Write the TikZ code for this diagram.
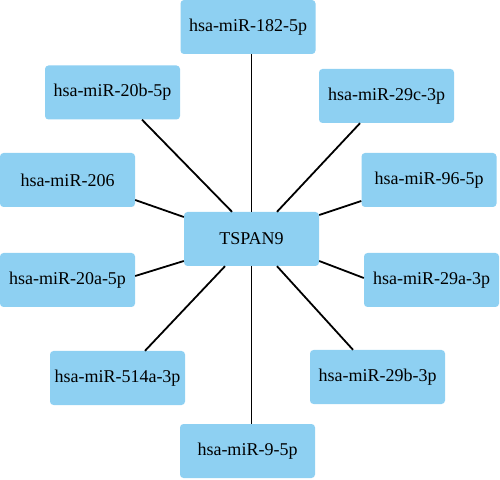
\documentclass[tikz,border=0pt]{standalone}
\usepackage{fontspec}
\setmainfont{Liberation Serif}
\definecolor{boxblue}{RGB}{142,208,242}
\begin{document}
\begin{tikzpicture}[x=1pt,y=1pt,
  mir/.style={fill=boxblue, draw=none, rounded corners=3.5pt, minimum width=135pt, minimum height=54pt, inner sep=0pt, font=\fontsize{18}{21}\selectfont},
  link/.style={draw=black, line width=1.8pt}]
\useasboundingbox (0,0) rectangle (500,479);
\node[mir] (T) at (251.5,240) {TSPAN9};
\node[mir] (n182) at (248,452) {hsa-miR-182-5p};
\node[mir] (n20b) at (112.5,386.5) {hsa-miR-20b-5p};
\node[mir] (n206) at (67.5,299) {hsa-miR-206};
\node[mir] (n29c) at (386.5,383) {hsa-miR-29c-3p};
\node[mir] (n96) at (429,299) {hsa-miR-96-5p};
\node[mir] (n20a) at (67.5,199) {hsa-miR-20a-5p};
\node[mir] (n514) at (117.5,101) {hsa-miR-514a-3p};
\node[mir] (n9) at (247.5,28) {hsa-miR-9-5p};
\node[mir] (n29a) at (431.5,199) {hsa-miR-29a-3p};
\node[mir] (n29b) at (377.5,102) {hsa-miR-29b-3p};
\draw[link] (T.north) -- (T.north |- n182.south);
\draw[link] ([xshift=-19.5pt]T.north) -- ([xshift=29.5pt]n20b.south);
\draw[link] ([yshift=22pt]T.west) -- ([yshift=-20pt]n206.east);
\draw[link] ([xshift=25.5pt]T.north) -- ([xshift=-26.5pt]n29c.south);
\draw[link] ([yshift=24pt]T.east) -- ([yshift=-21pt]n96.west);
\draw[link] ([yshift=-22pt]T.west) -- ([yshift=4pt]n20a.east);
\draw[link] ([xshift=-26.5pt]T.south) -- ([xshift=27.5pt]n514.north);
\draw[link] (T.south) -- (T.south |- n9.north);
\draw[link] ([yshift=-22pt]T.east) -- ([yshift=2pt]n29a.west);
\draw[link] ([xshift=25.5pt]T.south) -- ([xshift=-24.5pt]n29b.north);
\end{tikzpicture}
\end{document}
